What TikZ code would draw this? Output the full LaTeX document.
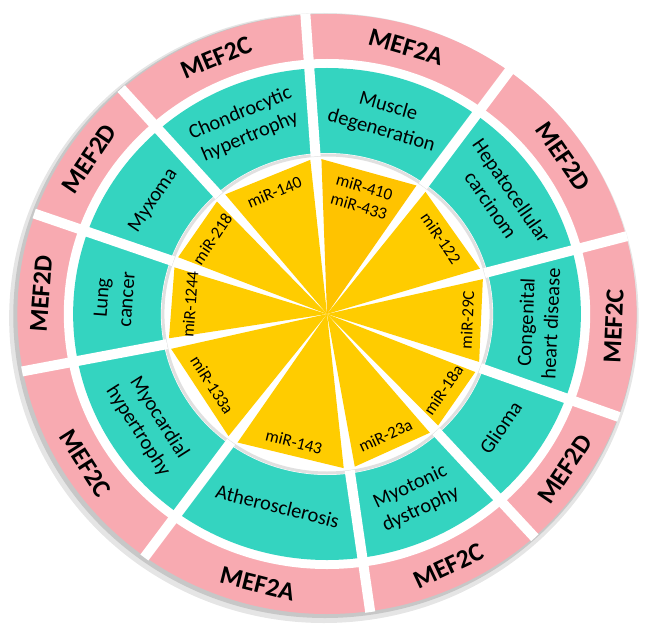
\documentclass[tikz,border=0pt]{standalone}
\usepackage{fontspec}
\setmainfont{Carlito}

\definecolor{mefpink}{RGB}{248,170,177}
\definecolor{disteal}{RGB}{52,212,192}
\definecolor{miryellow}{RGB}{255,204,0}
\definecolor{mirorange}{RGB}{255,195,0}

\begin{document}
\begin{tikzpicture}[x=1bp,y=1bp]
\useasboundingbox (0,0) rectangle (650,-630);
\begin{scope}[shift={(327,-314)},xscale=1.032]
\tikzstyle{mef}=[font=\fontsize{26}{30}\selectfont\bfseries,inner sep=0pt];
\tikzstyle{dis}=[font=\fontsize{20.5}{25}\selectfont,align=center,inner sep=0pt];
\tikzstyle{mir}=[font=\fontsize{17}{20}\selectfont,align=center,inner sep=0pt];
\tikzstyle{gap}=[white,line width=10bp];

% shadow and rings
\fill[black!10] (-3,-4) circle (305);
\fill[black!22] (-2,-2) circle (302);
\fill[mefpink] (0,0) circle (300);
\fill[white] (0,0) circle (255);
\fill[disteal] (0,0) circle (246);
\fill[white] (0,0) circle (161);
\draw[black!12,line width=3bp] (0,0) circle (159);

\foreach \a in {94,54,15,-20,-48,-82,-126,-169,-199.5,-228.5}
{
   \draw[gap] (\a:158) -- (\a:301);
}

% miRNA wedges
\foreach \a/\b in {54/15,15/-20,-20/-48,-48/-82,-82/-126,-126/-169,-169/-199.5,-199.5/-228.5,-228.5/-266}
{
   \fill[miryellow] (0,0) -- ({\a-2}:155) -- ({\b+2}:155) -- cycle;
}
\fill[mirorange] (0,0) -- (92:155) -- (56:155) -- cycle;

\path (74:278) node[mef,rotate=-16] (mef1) {MEF2A};
\path (34.5:278) node[mef,rotate=-55.5] (mef2) {MEF2D};
\path (-2.5:278) node[mef,rotate=87.5] (mef3) {MEF2C};
\path (-34:278) node[mef,rotate=56] (mef4) {MEF2D};
\path (-65:278) node[mef,rotate=25] (mef5) {MEF2C};
\path (-104:278) node[mef,rotate=-14] (mef6) {MEF2A};
\path (-147.5:278) node[mef,rotate=-57.5] (mef7) {MEF2C};
\path (175.75:278) node[mef,rotate=85.75] (mef8) {MEF2D};
\path (146:278) node[mef,rotate=56] (mef9) {MEF2D};
\path (112.75:278) node[mef,rotate=22.75] (mef10) {MEF2C};

\path (74:203) node[dis,rotate=-16] (dis1) {Muscle\\degeneration};
\path (34.5:205) node[dis,rotate=-55.5] (dis2) {Hepatocellular\\carcinom};
\path (-2.5:205) node[dis,rotate=87.5] (dis3) {Congenital\\heart disease};
\path (-34:203) node[dis,rotate=56] (dis4) {Glioma};
\path (-65:203) node[dis,rotate=25] (dis5) {Myotonic\\dystrophy};
\path (-104:198) node[dis,rotate=-14] (dis6) {Atherosclerosis};
\path (-147.5:205) node[dis,rotate=-57.5] (dis7) {Myocardial\\hypertrophy};
\path (175.75:207) node[dis,rotate=85.75] (dis8) {Lung\\cancer};
\path (146:203) node[dis,rotate=56] (dis9) {Myxoma};
\path (112.75:205) node[dis,rotate=22.75] (dis10) {Chondrocytic\\hypertrophy};

\path (74:122) node[mir,rotate=-16] (mir1) {miR-410\\miR-433};
\path (34.5:134) node[mir,rotate=-55.5] (mir2) {miR-122};
\path (-2.5:136) node[mir,rotate=87.5] (mir3) {miR-29C};
\path (-34:136) node[mir,rotate=56] (mir4) {miR-18a};
\path (-65:134) node[mir,rotate=25] (mir5) {miR-23a};
\path (-104:132) node[mir,rotate=-14] (mir6) {miR-143};
\path (-147.5:132) node[mir,rotate=-57.5] (mir7) {miR-133a};
\path (175.75:133) node[mir,rotate=85.75] (mir8) {miR-1244};
\path (146:134) node[mir,rotate=56] (mir9) {miR-218};
\path (112.75:132) node[mir,rotate=22.75] (mir10) {miR-140};
\end{scope}
\end{tikzpicture}
\end{document}
